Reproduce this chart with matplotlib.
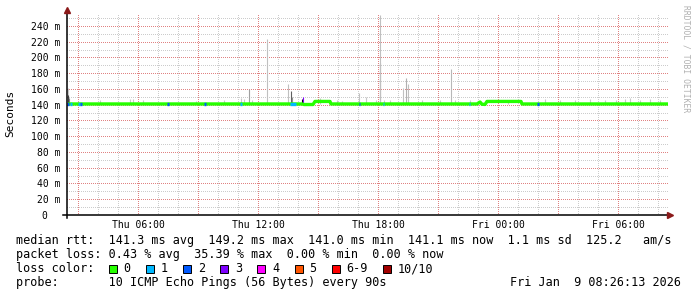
import matplotlib
matplotlib.use('Agg')
import matplotlib.pyplot as plt
from matplotlib.patches import Rectangle
from matplotlib.lines import Line2D
from matplotlib.ticker import MultipleLocator, FuncFormatter
import numpy as np

# ---- data (time in hours since Thu 00:00, values in ms) ----
median_t = [2.5, 14.2, 14.3, 14.75, 14.85, 15.6, 15.65, 22.95, 23.1, 23.2, 23.35, 23.45, 25.15, 25.2, 32.5]
median_v = [141.0, 141.0, 140.3, 140.3, 144.2, 144.2, 141.0, 141.0, 143.5, 140.6, 140.4, 144.2, 144.2, 141.0, 141.0]

# smoke: tall spikes (time, top value, shade)
smoke_t = [2.48, 2.52, 2.56, 3.0, 4.1, 5.6, 5.75, 6.25, 8.9, 10.3, 11.15, 11.3, 11.55, 11.7, 12.43,
           13.5, 13.63, 13.7, 14.21, 14.27, 15.1, 15.95, 16.2, 17.05, 17.4, 17.9, 18.08, 18.12, 18.3,
           18.6, 19.25, 19.4, 19.5, 20.2, 21.1, 21.65, 21.85, 22.6, 24.5, 26.35, 27.1, 27.85, 28.6,
           29.35, 29.9, 30.35, 30.6, 31.1, 31.6, 32.1]
smoke_top = [161, 152, 149, 145, 146, 147, 147, 146, 145, 146, 148, 147, 160, 146, 223,
             166, 157, 150, 147, 150, 148, 146, 145, 155, 150, 146, 193, 254, 146,
             146, 161, 174, 166, 146, 146, 186, 146, 146, 146, 147, 146, 146, 147,
             146, 146, 147, 148, 146, 147, 146]
smoke_col = ['#c8c8c8', '#404040', '#808080', '#c8c8c8', '#c8c8c8', '#c8c8c8', '#c8c8c8', '#c8c8c8', '#c8c8c8', '#c8c8c8', '#c8c8c8', '#c8c8c8', '#a0a0a0', '#c8c8c8', '#c0c0c0',
             '#c0c0c0', '#606060', '#909090', '#000000', '#7e00ff', '#c8c8c8', '#c8c8c8', '#c8c8c8', '#c0c0c0', '#c8c8c8', '#c8c8c8', '#909090', '#c0c0c0', '#c8c8c8',
             '#c8c8c8', '#c0c0c0', '#b0b0b0', '#c0c0c0', '#c8c8c8', '#c8c8c8', '#b8b8b8', '#c8c8c8', '#c8c8c8', '#c8c8c8', '#c8c8c8', '#c8c8c8', '#c8c8c8', '#c8c8c8',
             '#c8c8c8', '#c8c8c8', '#c8c8c8', '#c8c8c8', '#c8c8c8', '#c8c8c8', '#c8c8c8']

# packet loss marks on the median line (start, end, loss level index)
loss_start = [2.47, 2.6, 3.0, 3.1, 7.45, 9.3, 11.1, 13.6, 17.05, 18.25, 22.55, 25.95]
loss_end = [2.55, 2.68, 3.08, 3.18, 7.55, 9.38, 11.18, 13.9, 17.1, 18.32, 22.6, 26.05]
loss_level = [2, 1, 1, 2, 2, 2, 1, 1, 2, 1, 1, 2]

loss_labels = ['0', '1', '2', '3', '4', '5', '6-9', '10/10']
loss_colors = ['#26ff00', '#00b8ff', '#0059ff', '#7e00ff', '#ff00ff', '#ff5500', '#ff0000', '#a10000']

rtt_stats = [141.3, 149.2, 141.0, 141.1, 1.1, 125.2]
loss_stats = [0.43, 35.39, 0.00, 0.00]
xtick_pos = [6, 12, 18, 24, 30]
xtick_lab = ['Thu 06:00', 'Thu 12:00', 'Thu 18:00', 'Fri 00:00', 'Fri 06:00']
stamp = 'Fri Jan  9 08:26:13 2026'

# ---- figure ----
W, H = 697, 297
mono = 'DejaVu Sans Mono'
fig = plt.figure(figsize=(W / 100, H / 100), dpi=100)
ax = fig.add_axes([67 / W, (H - 215) / H, (668 - 67) / W, (215 - 13) / H])
ax.set_xlim(2.45, 32.5)
ax.set_ylim(0, 256.5)

def px_text(x, y, s, **kw):
    kw.setdefault('family', mono)
    kw.setdefault('fontsize', 8.5)
    kw.setdefault('va', 'center')
    fig.text(x / W, 1 - y / H, s, **kw)

# grid (dotted, 1px)
dot = (0, (1, 2))
ax.xaxis.set_major_locator(MultipleLocator(3))
ax.xaxis.set_minor_locator(MultipleLocator(1))
ax.yaxis.set_major_locator(MultipleLocator(20))
ax.yaxis.set_minor_locator(MultipleLocator(10))
ax.grid(which='minor', color='#cccccc', linestyle=dot, lw=0.72, antialiased=False)
ax.grid(which='major', color='#e08282', linestyle=dot, lw=0.72, antialiased=False)
ax.set_axisbelow(True)

ax.xaxis.set_major_formatter(FuncFormatter(
    lambda v, p: xtick_lab[xtick_pos.index(int(round(v)))] if int(round(v)) in xtick_pos else ''))
ax.yaxis.set_major_formatter(FuncFormatter(
    lambda v, p: '0  ' if v == 0 else ('%d m' % v if v <= 240 else '')))
ax.tick_params(which='both', length=0)
ax.tick_params(axis='y', pad=5)
ax.tick_params(axis='x', pad=3.6)
for lab in ax.get_xticklabels() + ax.get_yticklabels():
    lab.set_family(mono)
    lab.set_fontsize(7)

for s in ['top', 'right', 'left', 'bottom']:
    ax.spines[s].set_visible(False)

# smoke
ax.vlines(smoke_t, 140.5, smoke_top, colors=smoke_col, lw=0.8, zorder=2)

# median
ax.plot(median_t, median_v, color=loss_colors[0], lw=2.4, solid_capstyle='butt', zorder=3)
for a, b, lv in zip(loss_start, loss_end, loss_level):
    seg_t = [a, b]
    seg_v = np.interp(seg_t, median_t, median_v)
    ax.plot(seg_t, seg_v, color=loss_colors[lv], lw=2.4, solid_capstyle='butt', zorder=4)

# axes lines with arrows
fig.add_artist(Line2D([67 / W, 67 / W], [1 - 218 / H, 1 - 11 / H], color='black', lw=1.1))
fig.add_artist(Line2D([63 / W, 669 / W], [1 - 215 / H, 1 - 215 / H], color='black', lw=1.1))
fig.add_artist(Line2D([67 / W], [1 - 10 / H], marker='^', ms=5, color='#8b1a1a', mec='#8b1a1a'))
fig.add_artist(Line2D([670 / W], [1 - 215 / H], marker='>', ms=5, color='#8b1a1a', mec='#8b1a1a'))

px_text(10, 113, 'Seconds', rotation=90, ha='center', fontsize=8)
px_text(686, 5, 'RRDTOOL / TOBI OETIKER', rotation=270, ha='center', va='top',
        fontsize=5.8, color='#b0b0b0')

# legend text
r = rtt_stats
line1 = 'median rtt:  %.1f ms avg  %.1f ms max  %.1f ms min  %.1f ms now  %.1f ms sd  %.1f   am/s' % tuple(r)
line2 = 'packet loss: %.2f %% avg  %.2f %% max  %.2f %% min  %.2f %% now' % tuple(loss_stats)
px_text(16, 240.7, line1)
px_text(16, 254.7, line2)
px_text(16, 268.8, 'loss color:')
px_text(16, 282.9, 'probe:       10 ICMP Echo Pings (56 Bytes) every 90s')
px_text(510, 282.9, stamp)

x0 = 109.0
for lab, col in zip(loss_labels, loss_colors):
    fig.add_artist(Rectangle((x0 / W, 1 - 273 / H), 8 / W, 8 / H, transform=fig.transFigure,
                             facecolor=col, edgecolor='black', lw=0.7))
    px_text(x0 + 14.5, 268.8, lab)
    x0 += 37.1 + 7.12 * (len(lab) - 1)

fig.savefig('out.png', dpi=100)
